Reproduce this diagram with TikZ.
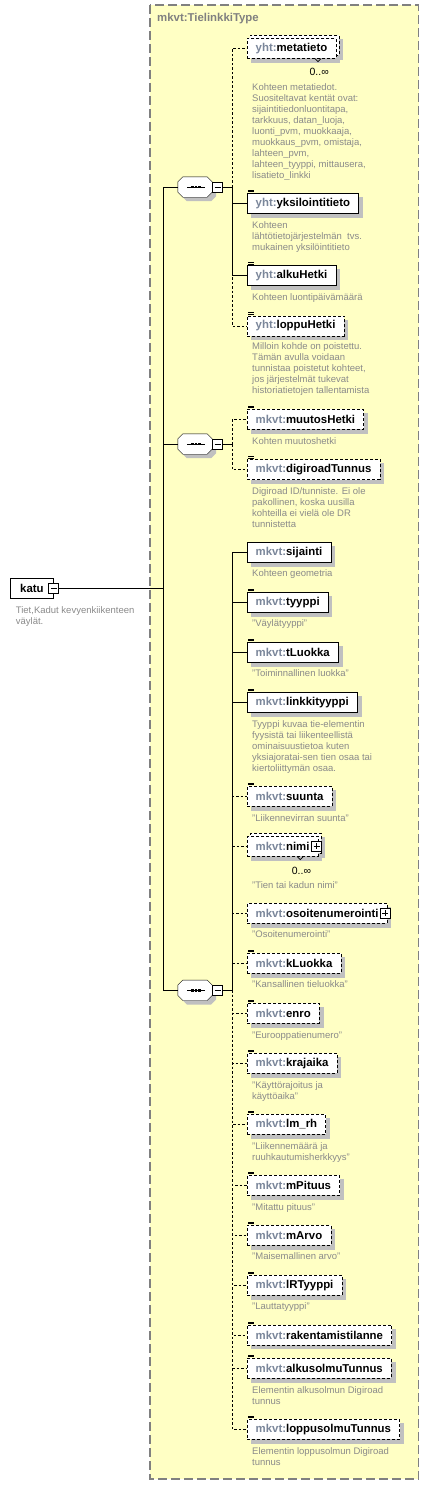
\documentclass[tikz,border=0pt]{standalone}
\usepackage{fontspec}
\setmainfont{Liberation Sans}
\usepackage{tikz}
\definecolor{typebg}{HTML}{FFFFC4}
\definecolor{typeline}{HTML}{808080}
\definecolor{shadowgray}{HTML}{C0C0C0}
\definecolor{descgray}{HTML}{8A8A8A}
\definecolor{pfxgray}{HTML}{7A869A}
\pgfdeclarelayer{bg}
\pgfdeclarelayer{shade}
\pgfsetlayers{bg,shade,main}
\newcommand{\pfx}[1]{\textcolor{pfxgray}{#1}}
\newcommand{\elfont}{\fontsize{11.4}{13}\selectfont\bfseries}
\newcommand{\desfont}{\fontsize{9.5}{11}\selectfont}
\newcommand{\seqshape}[3]{([shift={(5+#2,#3)}]#1.north west) -- ([shift={(-5+#2,#3)}]#1.north east)
  -- ([shift={(#2,5+#3)}]#1.north east) -- ([shift={(#2,-5+#3)}]#1.south east)
  -- ([shift={(-5+#2,#3)}]#1.south east) -- ([shift={(5+#2,#3)}]#1.south west)
  -- ([shift={(#2,-5+#3)}]#1.south west) -- ([shift={(#2,5+#3)}]#1.north west) -- cycle}

\begin{document}
\begin{tikzpicture}[x=1pt,y=-1pt,line width=1pt,
    el/.style={draw,fill=white,anchor=west,minimum height=20pt,inner xsep=8.5pt,inner ysep=0pt,font=\elfont},
    opt/.style={el,dash pattern=on 3pt off 2pt},
    optline/.style={dash pattern=on 2.5pt off 2pt},
    desc/.style={anchor=north west,align=left,inner sep=0pt,font=\desfont,text=descgray},
    mult/.style={anchor=east,inner sep=0pt,font=\fontsize{10.5}{12}\selectfont},
    seq/.style={minimum width=34pt,minimum height=20pt,inner sep=0pt},
    mbox/.style={draw,fill=white,minimum size=10pt,inner sep=0pt,line width=0.8pt,
      path picture={\draw[line width=0.8pt] ([xshift=2pt]path picture bounding box.west) -- ([xshift=-2pt]path picture bounding box.east);}},
    pbox/.style={mbox,
      path picture={\draw[line width=0.8pt] ([xshift=2pt]path picture bounding box.west) -- ([xshift=-2pt]path picture bounding box.east)
        ([yshift=-2pt]path picture bounding box.north) -- ([yshift=2pt]path picture bounding box.south);}},
    icon/.style={line width=0.7pt}]
    \useasboundingbox (0,0) rectangle (429,1485);
    \begin{pgfonlayer}{bg}
      \draw[typeline,fill=typebg,line width=1.2pt,dash pattern=on 9pt off 4pt] (150,5) rectangle (418.5,1479);
    \end{pgfonlayer}
    \node[anchor=west,inner sep=0pt,font=\elfont,text=typeline] (title) at (157,19) {mkvt:TielinkkiType};

    \node[draw,fill=white,anchor=west,minimum height=20pt,inner xsep=10pt,inner ysep=0pt,font=\elfont] (katu) at (10,588) {katu\hspace{9pt}};
    \node[mbox] (katu-m) at (katu.east) {};
    \node[desc] (katu-d) at (15.7,606.5) {Tiet,Kadut kevyenkiikenteen\\väylät.};

    \node[seq] (seqA) at (195,187) {};
    \node[seq] (seqB) at (195,444) {};
    \node[seq] (seqC) at (195,990.3) {};
    \foreach \s in {seqA,seqB,seqC} {
      \begin{pgfonlayer}{shade}
        \fill[shadowgray] \seqshape{\s}{4}{4};
      \end{pgfonlayer}
      \draw[fill=white] \seqshape{\s}{0}{0};
      \draw[line width=0.8pt] ([xshift=-8pt]\s.center) -- ([xshift=10pt]\s.center);
      \foreach \d in {-2.6,1,4.6}
        \fill ([shift={(\d-1.3,-1.3)}]\s.center) rectangle ++(2.6,2.6);
    }
    \node[mbox] (seqA-m) at (217.5,187) {};
    \node[mbox] (seqB-m) at (217.5,444) {};
    \node[mbox] (seqC-m) at (217.5,990.3) {};
    \coordinate (tj) at (163,588);
    \coordinate (jA) at (232,187);
    \coordinate (jB) at (232,444);
    \coordinate (jC) at (232,990.3);

    \node[opt] (meta-b) at (250,45.5) {\phantom{\pfx{yht:}metatieto}};
    \node[opt] (meta) at (247,48.5) {\pfx{yht:}metatieto};
    \node[mult] (meta-n) at ([shift={(-7,13.5)}]meta.south east) {0..∞};
    \node[desc] (meta-d) at (252,83.5) {Kohteen metatiedot.\\Suositeltavat kentät ovat:\\sijaintitiedonluontitapa,\\tarkkuus, datan\_luoja,\\luonti\_pvm, muokkaaja,\\muokkaus\_pvm, omistaja,\\lahteen\_pvm,\\lahteen\_tyyppi, mittausera,\\lisatieto\_linkki};
    \node[el] (yks) at (247,203.3) {\pfx{yht:}yksilointitieto};
    \node[desc] (yks-d) at (252,221.2) {Kohteen\\lähtötietojärjestelmän\ \ tvs.\\mukainen yksilöintitieto};
    \node[el] (alku) at (247,275.5) {\pfx{yht:}alkuHetki};
    \node[desc] (alku-d) at (252,293.2) {Kohteen luontipäivämäärä};
    \node[opt] (loppu) at (247,325.7) {\pfx{yht:}loppuHetki};
    \node[desc] (loppu-d) at (252,342.8) {Milloin kohde on poistettu.\\Tämän avulla voidaan\\tunnistaa poistetut kohteet,\\jos järjestelmät tukevat\\historiatietojen tallentamista};

    \node[opt] (muutos) at (247,419.3) {\pfx{mkvt:}muutosHetki};
    \node[desc] (muutos-d) at (252,437.2) {Kohten muutoshetki};
    \node[opt] (digi) at (247,469.5) {\pfx{mkvt:}digiroadTunnus};
    \node[desc] (digi-d) at (252,487.2) {Digiroad ID/tunniste. Ei ole\\pakollinen, koska uusilla\\kohteilla ei vielä ole DR\\tunnistetta};

    \node[el] (sij) at (247,552.5) {\pfx{mkvt:}sijainti};
    \node[desc] (sij-d) at (252,569.8) {Kohteen geometria};
    \node[el] (tyyppi) at (247,602.3) {\pfx{mkvt:}tyyppi};
    \node[desc] (tyyppi-d) at (252,619.8) {"Väylätyyppi"};
    \node[el] (tluokka) at (247,652.3) {\pfx{mkvt:}tLuokka};
    \node[desc] (tluokka-d) at (252,669.8) {"Toiminnallinen luokka"};
    \node[el] (linkki) at (247,702.3) {\pfx{mkvt:}linkkityyppi};
    \node[desc] (linkki-d) at (252,720.5) {Tyyppi kuvaa tie-elementin\\fyysistä tai liikenteellistä\\ominaisuustietoa kuten\\yksiajoratai-sen tien osaa tai\\kiertoliittymän osaa.};
    \node[opt] (suunta) at (247,796.3) {\pfx{mkvt:}suunta};
    \node[desc] (suunta-d) at (252,814.2) {"Liikennevirran suunta"};
    \node[opt] (nimi-b) at (250,843.3) {\phantom{\pfx{mkvt:}nimi}\hspace{5pt}};
    \node[opt] (nimi) at (247,846.3) {\pfx{mkvt:}nimi\hspace{5pt}};
    \node[pbox] (nimi-p) at ([xshift=-1.5pt]nimi.east) {};
    \node[mult] (nimi-n) at ([shift={(-7,14)}]nimi.south east) {0..∞};
    \node[desc] (nimi-d) at (252,881.2) {"Tien tai kadun nimi"};
    \node[opt] (osoite) at (247,913.3) {\pfx{mkvt:}osoitenumerointi\hspace{5pt}};
    \node[pbox] (osoite-p) at ([xshift=-2pt]osoite.east) {};
    \node[desc] (osoite-d) at (252,930.2) {"Osoitenumerointi"};
    \node[opt] (kluokka) at (247,963.3) {\pfx{mkvt:}kLuokka};
    \node[desc] (kluokka-d) at (252,980.8) {"Kansallinen tieluokka"};
    \node[opt] (enro) at (247,1013.3) {\pfx{mkvt:}enro};
    \node[desc] (enro-d) at (252,1031.2) {"Eurooppatienumero"};
    \node[opt] (kraj) at (247,1063.3) {\pfx{mkvt:}krajaika};
    \node[desc] (kraj-d) at (252,1081.2) {"Käyttörajoitus ja\\käyttöaika"};
    \node[opt] (lmrh) at (247,1124.3) {\pfx{mkvt:}lm\_rh};
    \node[desc] (lmrh-d) at (252,1142.2) {"Liikennemäärä ja\\ruuhkautumisherkkyys"};
    \node[opt] (mpit) at (247,1185.3) {\pfx{mkvt:}mPituus};
    \node[desc] (mpit-d) at (252,1203.2) {"Mitattu pituus"};
    \node[opt] (marvo) at (247,1235.3) {\pfx{mkvt:}mArvo};
    \node[desc] (marvo-d) at (252,1252.8) {"Maisemallinen arvo"};
    \node[opt] (lrt) at (247,1285.3) {\pfx{mkvt:}lRTyyppi};
    \node[desc] (lrt-d) at (252,1302.2) {"Lauttatyyppi"};
    \node[opt] (rak) at (247,1335) {\pfx{mkvt:}rakentamistilanne};
    \node[opt] (alkus) at (247,1368.3) {\pfx{mkvt:}alkusolmuTunnus};
    \node[desc] (alkus-d) at (252,1386.2) {Elementin alkusolmun Digiroad\\tunnus};
    \node[opt] (loppus) at (247,1429.3) {\pfx{mkvt:}loppusolmuTunnus};
    \node[desc] (loppus-d) at (252,1447.2) {Elementin loppusolmun Digiroad\\tunnus};

    \begin{pgfonlayer}{shade}
      \foreach \n in {meta-b,meta,yks,alku,loppu,muutos,digi,sij,tyyppi,tluokka,linkki,suunta,nimi-b,nimi,osoite,kluokka,enro,kraj,lmrh,mpit,marvo,lrt,rak,alkus,loppus}
        \fill[shadowgray] ([shift={(4,4)}]\n.south west) rectangle ([shift={(4,4)}]\n.north east);
    \end{pgfonlayer}
    \foreach \n in {yks,alku,loppu,muutos,digi,tyyppi,tluokka,linkki,suunta,kluokka,enro,kraj,lmrh,mpit,marvo,lrt,rak,alkus,loppus}
      \draw[icon] ([shift={(1,-1.3)}]\n.north west) -- ++(5.5,0) ([shift={(1,-2.8)}]\n.north west) -- ++(5.5,0);
    \foreach \n in {meta,nimi}
      \draw[line width=0.7pt] ([xshift=-21pt]\n.south east) -- ++(3,3) -- ++(3,-3);

    \draw (katu-m.east) -- (tj);
    \draw (tj) |- (seqA.west);
    \draw (tj) |- (seqB.west);
    \draw (tj) |- (seqC.west);
    \draw (seqA-m.east) -- (jA);
    \draw (seqB-m.east) -- (jB);
    \draw (seqC-m.east) -- (jC);
    \foreach \n in {meta,loppu} \draw[optline] (jA) |- (\n.west);
    \foreach \n in {yks,alku} \draw (jA) |- (\n.west);
    \foreach \n in {muutos,digi} \draw[optline] (jB) |- (\n.west);
    \foreach \n in {suunta,nimi,osoite,kluokka,enro,kraj,lmrh,mpit,marvo,lrt,rak,alkus,loppus} \draw[optline] (jC) |- (\n.west);
    \foreach \n in {sij,tyyppi,tluokka,linkki} \draw (jC) |- (\n.west);
\end{tikzpicture}
\end{document}
